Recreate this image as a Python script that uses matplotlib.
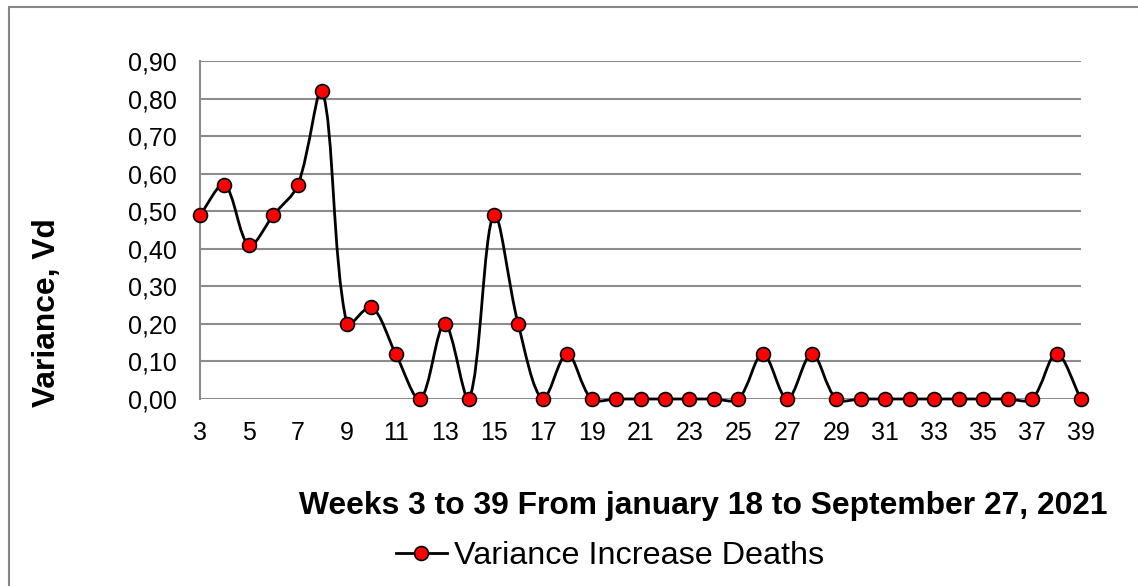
import numpy as np
import matplotlib
matplotlib.use("Agg")
import matplotlib.pyplot as plt
from matplotlib.path import Path
from matplotlib.patches import PathPatch, Rectangle
from matplotlib.lines import Line2D

plt.rcParams['font.family'] = ['Liberation Sans', 'DejaVu Sans']

weeks = [3, 4, 5, 6, 7, 8, 9, 10, 11, 12, 13, 14, 15, 16, 17, 18, 19, 20, 21,
         22, 23, 24, 25, 26, 27, 28, 29, 30, 31, 32, 33, 34, 35, 36, 37, 38, 39]
variance = [0.49, 0.57, 0.41, 0.49, 0.57, 0.82, 0.20, 0.245, 0.12, 0.0, 0.20,
            0.0, 0.49, 0.20, 0.0, 0.12, 0.0, 0.0, 0.0, 0.0, 0.0, 0.0, 0.0,
            0.12, 0.0, 0.12, 0.0, 0.0, 0.0, 0.0, 0.0, 0.0, 0.0, 0.0, 0.0,
            0.12, 0.0]
x_ticks = [3, 5, 7, 9, 11, 13, 15, 17, 19, 21, 23, 25, 27, 29, 31, 33, 35, 37, 39]
y_ticks = [0.0, 0.1, 0.2, 0.3, 0.4, 0.5, 0.6, 0.7, 0.8, 0.9]
series_name = "Variance Increase Deaths"
x_title = "Weeks 3 to 39 From january 18 to September 27, 2021"
y_title = "Variance, Vd"

W, H = 1138, 586
fig = plt.figure(figsize=(W / 100, H / 100), dpi=100)
ax = fig.add_axes([200 / W, 1 - 399 / H, (1081 - 200) / W, (399 - 61) / H])
ax.set_xlim(3, 39)
ax.set_ylim(0, 0.9)

grid_col = '#8c8c8c'


def smooth_path(ax, xs, ys):
    # Excel-style smoothed line: bezier handles along (next - prev),
    # split by the lengths of the neighbouring segments (screen space)
    pts = ax.transData.transform(np.column_stack([xs, ys]).astype(float))
    n = len(pts)
    before = [pts[0]] * n
    after = [pts[-1]] * n
    for i in range(n):
        prev = pts[max(i - 1, 0)]
        nxt = pts[min(i + 1, n - 1)]
        d0 = np.hypot(*(pts[i] - prev))
        d1 = np.hypot(*(nxt - pts[i]))
        tot = d0 + d1 if d0 + d1 > 0 else 1.0
        after[i] = pts[i] + (nxt - prev) * d1 / tot / 3.0
        before[i] = pts[i] - (nxt - prev) * d0 / tot / 3.0
    verts = [pts[0]]
    codes = [Path.MOVETO]
    for i in range(n - 1):
        verts += [after[i], before[i + 1], pts[i + 1]]
        codes += [Path.CURVE4] * 3
    verts = ax.transData.inverted().transform(np.array(verts))
    return Path(verts, codes)


ax.add_patch(PathPatch(smooth_path(ax, weeks, variance), facecolor='none',
                       edgecolor='black', lw=2.0, zorder=3, clip_on=False))
ax.plot(weeks, variance, linestyle='none', marker='o', markersize=10,
        markerfacecolor='red', markeredgecolor='black', markeredgewidth=1.2,
        zorder=4, clip_on=False)

ax.set_xticks(x_ticks)
ax.set_yticks(y_ticks)
ax.set_yticklabels([f"{v:.2f}".replace('.', ',') for v in y_ticks])
ax.tick_params(axis='both', length=0, labelsize=18, colors='black')
ax.tick_params(axis='y', pad=17)
ax.tick_params(axis='x', pad=16)
ax.yaxis.grid(True, color=grid_col, lw=1.5)
ax.set_axisbelow(True)
for side in ['top', 'right', 'bottom']:
    ax.spines[side].set_visible(False)
ax.spines['left'].set_color(grid_col)
ax.spines['left'].set_linewidth(1.5)

fig.text(703 / W, 1 - 514 / H, x_title, ha='center', va='baseline',
         fontsize=22.9, fontweight='bold')
fig.text(47 / W, 1 - 313 / H, y_title, ha='center', va='center',
         rotation=90, fontsize=22.9, fontweight='bold')

handle = Line2D([], [], color='black', lw=2.0, marker='o', markersize=10,
                markerfacecolor='red', markeredgecolor='black',
                markeredgewidth=1.2)
fig.legend(handles=[handle], labels=[series_name], loc='center',
           bbox_to_anchor=(610 / W, 1 - 556 / H), frameon=False, fontsize=23.3,
           handlelength=1.57, handletextpad=0.22, borderpad=0, borderaxespad=0)

fig.add_artist(Rectangle((9 / W, -0.1), 1.2, 1.1 - 7 / H, transform=fig.transFigure,
                         fill=False, edgecolor='#868686', lw=1.5))

fig.savefig('out.png', dpi=100)
